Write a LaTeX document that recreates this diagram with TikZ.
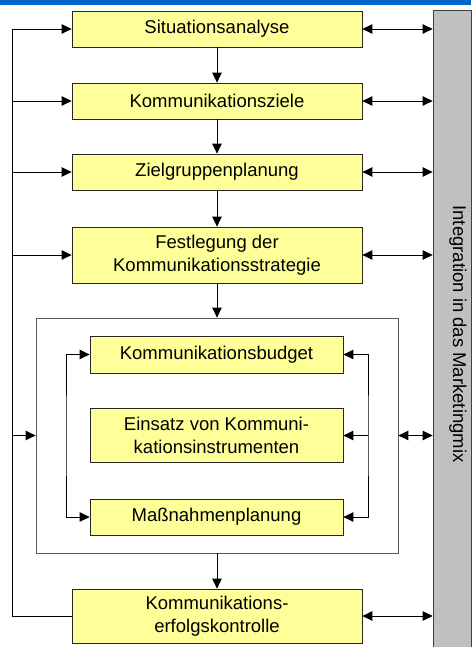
\documentclass[tikz,border=0pt]{standalone}
\usepackage{fontspec}
\setmainfont{Liberation Sans}
\usetikzlibrary{arrows.meta}
\definecolor{boxyellow}{HTML}{FFFF99}
\definecolor{topblue}{HTML}{0066CC}
\definecolor{bargray}{HTML}{C0C0C0}
\begin{document}
\begin{tikzpicture}[x=1pt,y=-1pt,
  stepbox/.style={draw=black!85,fill=boxyellow,line width=0.8pt,minimum width=290pt,inner sep=0pt,align=center,font=\fontsize{18.5}{22.5}\selectfont},
  innerbox/.style={stepbox,minimum width=253pt},
  conn/.style={draw=black,line width=0.9pt},
  tip/.style={-{Triangle[length=10pt,width=9.5pt]}},
  dtip/.style={{Triangle[length=10pt,width=9.5pt]}-{Triangle[length=10pt,width=9.5pt]}}]
\useasboundingbox (0,0) rectangle (471,647);
% top blue band
\fill[topblue] (0,0) rectangle (471,5);
% grey integration bar
\node (bar) [draw=black!75,fill=bargray,line width=0.8pt,minimum width=38pt,minimum height=638pt,inner sep=0pt] at (452,329) {};
\node (bartext) [rotate=-90,font=\fontsize{18.5}{22.5}\selectfont] at (458,334) {Integration in das Marketingmix};
% main boxes
\node (b1) [stepbox,minimum height=36pt] at (217,29) {Situationsanalyse};
\node (b2) [stepbox,minimum height=36pt] at (217,101) {Kommunikationsziele};
\node (b3) [stepbox,minimum height=36pt] at (217,172) {Zielgruppenplanung};
\node (b4) [stepbox,minimum height=56pt] at (217,255) {Festlegung der\\Kommunikationsstrategie};
% inner frame
\node (frame) [draw=black!65,line width=0.8pt,minimum width=362pt,minimum height=235pt,inner sep=0pt] at (217,435.5) {};
\node (i1) [innerbox,minimum height=37pt] at (216.5,354.5) {Kommunikationsbudget};
\node (i2) [innerbox,minimum height=54pt] at (216.5,435.5) {Einsatz von Kommuni-\\kationsinstrumenten};
\node (i3) [innerbox,minimum height=36pt] at (216.5,517) {Maßnahmenplanung};
\node (b5) [stepbox,minimum height=54pt] at (217,616) {Kommunikations-\\erfolgskontrolle};
% helper coordinates
\coordinate (lx) at (12,0);
\coordinate (ilx) at (66,435.5);
\coordinate (irx) at (368,435.5);
% vertical flow
\draw[conn,tip] (b1.south) -- (b2.north);
\draw[conn,tip] (b2.south) -- (b3.north);
\draw[conn,tip] (b3.south) -- (b4.north);
\draw[conn,tip] (b4.south) -- (frame.north);
\draw[conn,tip] (frame.south) -- (b5.north);
% left feedback loop
\draw[conn,tip] (b5.west) -| (lx |- b1.west) -- (b1.west);
\draw[conn,tip] (lx |- b2.west) -- (b2.west);
\draw[conn,tip] (lx |- b3.west) -- (b3.west);
\draw[conn,tip] (lx |- b4.west) -- (b4.west);
\draw[conn,tip] (lx |- frame.west) -- (frame.west);
% inner loops
\draw[conn,dtip] (i1.west) -| (ilx) |- (i3.west);
\draw[conn,dtip] (i1.east) -| (irx) |- (i3.east);
\draw[conn,tip] (irx) -- (i2.east);
% links to integration bar
\draw[conn,dtip] (b1.east) -- (b1.east -| bar.west);
\draw[conn,dtip] (b2.east) -- (b2.east -| bar.west);
\draw[conn,dtip] (b3.east) -- (b3.east -| bar.west);
\draw[conn,dtip] (b4.east) -- (b4.east -| bar.west);
\draw[conn,dtip] (frame.east) -- (frame.east -| bar.west);
\draw[conn,dtip] (b5.east) -- (b5.east -| bar.west);
\end{tikzpicture}
\end{document}
